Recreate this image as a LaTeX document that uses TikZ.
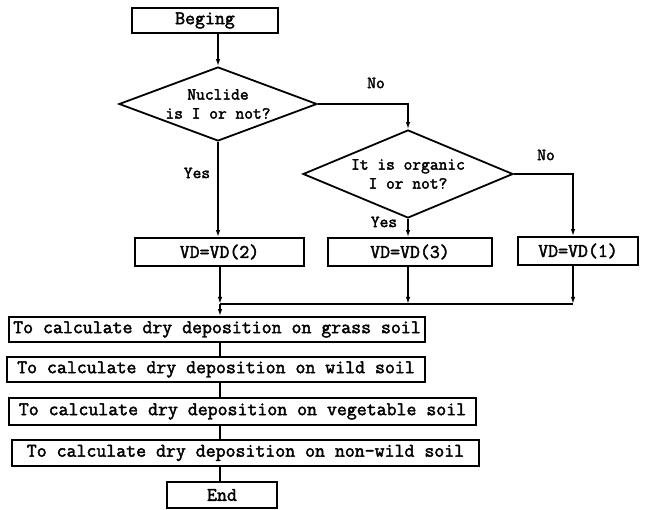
\documentclass[tikz,border=0pt]{standalone}
\usepackage{fontspec}
\usepackage{tikz}
\usetikzlibrary{shapes.geometric,arrows.meta}
\newfontfamily\monofont[AutoFakeBold=2.2]{Latin Modern Mono}
\newcommand\boxfont{\monofont\bfseries\fontsize{19.3}{21}\selectfont}
\newcommand\askfont{\monofont\bfseries\fontsize{17}{19}\selectfont}

\begin{document}
\begin{tikzpicture}[x=1pt,y=-1pt,line width=1.8pt,
  box/.style={draw,inner sep=0pt,minimum height=26pt,font=\boxfont},
  choice/.style={draw,diamond,inner sep=0pt},
  flow/.style={-{Latex[length=7pt,width=4.5pt]}},
  lbl/.style={font=\askfont,align=center}]
\useasboundingbox (0,0) rectangle (654,510);

% start and the two questions
\node[box,minimum width=146pt,minimum height=25pt] (begin) at (205,20.5) {Beging};
\node[choice,minimum width=198pt,minimum height=74pt] (ask1) at (218,104) {};
\node[lbl] (ask1text) at (ask1) {Nuclide\\is I or not?};
\node[choice,minimum width=210pt,minimum height=88pt] (ask2) at (408,174) {};
\node[lbl] (ask2text) at (ask2) {It is organic\\I or not?};
\node[lbl] (no1) at (376,83) {No};
\node[lbl] (no2) at (546,155) {No};
\node[lbl] (yes1) at (197,173) {Yes};
\node[lbl] (yes2) at (384,222) {Yes};

% deposition velocities
\node[box,minimum width=169pt,minimum height=28pt] (vd2) at (219.5,252) {VD=VD(2)};
\node[box,minimum width=164pt,minimum height=28pt] (vd3) at (410,252) {VD=VD(3)};
\node[box,minimum width=120pt,minimum height=28pt] (vd1) at (578,251) {VD=VD(1)};

% calculation steps
\node[box,minimum width=416pt,minimum height=25pt] (grass) at (217,329.5) {To calculate dry deposition on grass soil};
\node[box,minimum width=418pt,minimum height=25pt] (wild) at (216,369.5) {To calculate dry deposition on wild soil};
\node[box,minimum width=467pt,minimum height=27pt] (veg) at (242.5,411.5) {To calculate dry deposition on vegetable soil};
\node[box,minimum width=467pt,minimum height=26pt] (nonwild) at (245.5,453) {To calculate dry deposition on non-wild soil};
\node[box,minimum width=110pt] (end) at (222,495) {End};

\coordinate (turn) at (573,0);
\coordinate (join) at (220,304);
\coordinate (joinend) at (573,304);

% connectors
\draw[flow] (begin.south -| ask1.north) -- (ask1.north);
\draw[flow] (ask1.east) -| (ask2.north);
\draw[flow] (ask1.south) -- (ask1.south |- vd2.north);
\draw[flow] (ask2.south) -- (ask2.south |- vd3.north);
\draw[flow] (ask2.east) -| (turn |- vd1.north);
\draw (join) -- (joinend);
\draw[flow] (vd2.south -| join) -- (join);
\draw[flow] (vd3.south -| ask2.south) -- (ask2.south |- join);
\draw[flow] (vd1.south -| turn) -- (joinend);
\draw[flow] (join) -- (grass.north -| join);
\draw (grass.south -| join) -- (wild.north -| join);
\draw (wild.south -| join) -- (veg.north -| join);
\draw (veg.south -| join) -- (nonwild.north -| join);
\draw (nonwild.south -| join) -- (end.north -| join);
\end{tikzpicture}
\end{document}
